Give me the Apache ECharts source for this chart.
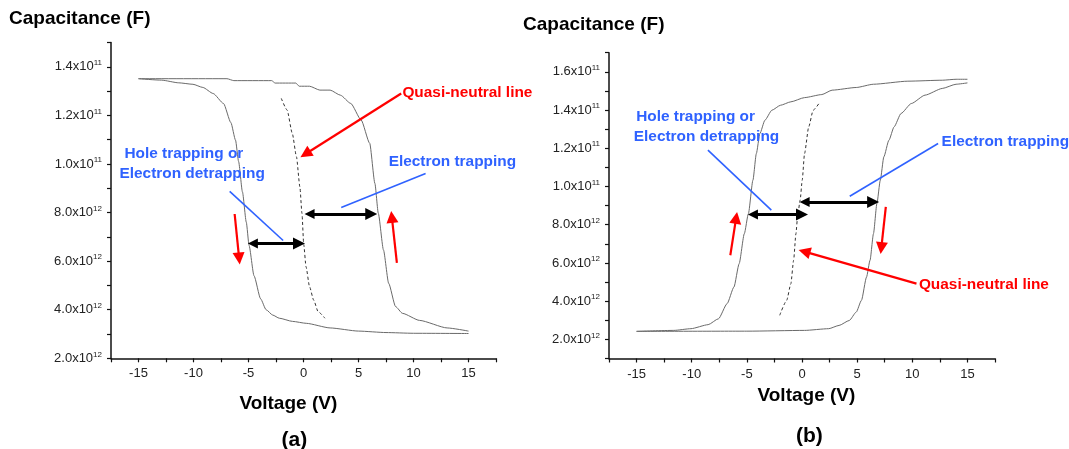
<!DOCTYPE html>
<html><head><meta charset="utf-8">
<script src="https://cdn.jsdelivr.net/npm/echarts@6/dist/echarts.min.js"></script>
<style>html,body{margin:0;padding:0;background:#fff}#c{width:1069px;height:449px}</style>
</head><body><div id="c"></div>
<script>
// ---------- data (Voltage V, Capacitance in tick units) ----------
const xTickValues = [-15, -10, -5, 0, 5, 10, 15];
const yTicksA = [[2,'2.0x10','12'],[4,'4.0x10','12'],[6,'6.0x10','12'],[8,'8.0x10','12'],[10,'1.0x10','11'],[12,'1.2x10','11'],[14,'1.4x10','11']];
const yTicksB = [[2,'2.0x10','12'],[4,'4.0x10','12'],[6,'6.0x10','12'],[8,'8.0x10','12'],[10,'1.0x10','11'],[12,'1.2x10','11'],[14,'1.4x10','11'],[16,'1.6x10','11']];

const aBranchLeft = [[-15,13.51],[-12.9,13.45],[-11.34,13.34],[-10.05,13.28],[-9.15,13.15],[-8.21,12.9],[-7.27,12.49],[-6.6,11.7],[-6.18,10.98],[-5.9,10.1],[-5.55,8.85],[-5.2,7.6],[-4.95,6.65],[-4.5,5.4],[-3.9,4.45],[-3.4,4.0],[-2.8,3.78],[-2.2,3.65],[-1.0,3.52],[0.25,3.44],[2.42,3.25],[5.0,3.12],[7.5,3.06],[10,3.03],[15,3.02]];
const aBranchRight = [[-15,13.51],[-6.96,13.51],[-6.33,13.43],[-2.89,13.43],[-2.58,13.33],[-0.7,13.33],[-0.39,13.2],[0.55,13.2],[1.49,13.04],[2.42,13.04],[3.36,12.83],[4.3,12.49],[5.24,11.81],[6.02,10.85],[6.49,9.2],[6.8,7.97],[7.27,6.46],[7.74,5.09],[8.37,4.13],[9.0,3.85],[10.55,3.56],[13.06,3.25],[15,3.12]];
const aNeutral = [[-2.02,12.7],[-1.49,12.22],[-1.02,11.26],[-0.64,10.3],[-0.33,9.06],[-0.14,7.97],[0.02,6.69],[0.23,5.77],[0.55,4.95],[0.92,4.4],[1.33,3.92],[1.95,3.65]];

const bBranchLeft = [[-15,2.42],[-11.63,2.47],[-10.07,2.56],[-8.51,2.77],[-7.57,3.08],[-6.79,3.87],[-6.17,4.74],[-5.7,5.96],[-5.23,7.53],[-4.86,8.58],[-4.45,10.33],[-4.14,11.72],[-3.82,12.77],[-3.36,13.47],[-2.73,13.99],[-1.95,14.25],[-1.01,14.43],[0.23,14.65],[1.8,14.81],[2.73,15.04],[4.92,15.18],[6.48,15.35],[9.6,15.51],[12.72,15.56],[13.97,15.61],[15,15.61]];
const bBranchRight = [[-15,2.42],[-5,2.43],[0.23,2.47],[2.42,2.56],[3.36,2.73],[4.29,2.99],[4.92,3.43],[5.39,4.04],[5.85,5.26],[6.17,6.14],[6.48,7.53],[6.79,9.1],[7.1,10.33],[7.42,11.55],[7.88,12.42],[8.35,13.12],[8.98,13.82],[9.91,14.34],[11.16,14.78],[12.72,15.13],[13.97,15.35],[15,15.42]];
const bNeutral = [[-2.02,3.26],[-1.39,4.04],[-1.01,4.91],[-0.76,6.14],[-0.55,7.53],[-0.39,8.49],[-0.17,9.28],[0.02,10.33],[0.23,11.72],[0.61,13.12],[1.01,13.99],[1.64,14.43]];

// annotations (data coordinates)
const aBlackArrows = [[[-4.6,6.73],[-0.41,6.73]],[[0.55,7.94],[6.16,7.94]]];
const aRedArrows = [[[8.88,12.9],[0.18,10.41]],[[-6.26,7.94],[-5.85,6.11]],[[8.49,5.93],[8.03,7.82]]];
const aBlueLines = [[[-6.71,8.87],[-1.85,6.85]],[[11.1,9.61],[3.43,8.21]]];
const aNotes = [[8.99,12.93,'Quasi-neutral line','red'],[-16.28,10.44,'Hole trapping or','blue'],[-16.73,9.58,'Electron detrapping','blue'],[7.74,10.09,'Electron trapping','blue']];

const bBlackArrows = [[[-4.45,8.53],[0.0,8.53]],[[0.24,9.19],[6.45,9.19]]];
const bRedArrows = [[[10.38,4.92],[0.22,6.59]],[[-6.5,6.4],[-5.97,8.36]],[[7.6,8.93],[7.19,6.78]]];
const bBlueLines = [[[-8.53,11.9],[-2.78,8.76]],[[12.34,12.25],[4.33,9.49]]];
const bNotes = [[-15.04,13.64,'Hole trapping or','blue'],[-15.25,12.6,'Electron detrapping','blue'],[12.66,12.34,'Electron trapping','blue'],[10.6,4.88,'Quasi-neutral line','red']];

// ---------- styling ----------
const FONT = '"Liberation Sans", Arial, Helvetica, sans-serif';
const COLORS = {red:'#ff0000', blue:'#2f62ff'};
const AXIS = '#111';

function mkX(gi){
  return {type:'value', gridIndex:gi, min:-17.5, max:17.5, interval:2.5,
    axisLine:{onZero:false, lineStyle:{color:AXIS, width:1.5}},
    axisTick:{length:4, lineStyle:{color:AXIS, width:1.2}},
    splitLine:{show:false},
    axisLabel:{margin:9, fontSize:13, color:'#222', fontFamily:FONT,
      formatter:v => xTickValues.indexOf(v) >= 0 ? String(v) : ''}};
}
function mkY(gi, mn, mx, ticks){
  const map = {}; ticks.forEach(t => map[t[0]] = t);
  return {type:'value', gridIndex:gi, min:mn, max:mx, interval:1,
    axisLine:{onZero:false, lineStyle:{color:AXIS, width:1.5}},
    axisTick:{length:4, lineStyle:{color:AXIS, width:1.2}},
    splitLine:{show:false},
    axisLabel:{margin:9, color:'#222', fontFamily:FONT,
      formatter:v => map[v] ? '{m|' + map[v][1] + '}{s|' + map[v][2] + '}' : '',
      rich:{m:{fontSize:13, color:'#222', fontFamily:FONT, lineHeight:16},
            s:{fontSize:8, color:'#222', fontFamily:FONT, lineHeight:9, verticalAlign:'top'}}}};
}
function curve(gi, data, dashed){
  return {type:'line', xAxisIndex:gi, yAxisIndex:gi, data:data, showSymbol:false, symbol:'none',
    smooth:0.2, smoothMonotone:'x', silent:true, clip:false,
    lineStyle:{color: dashed ? '#333' : '#6a6a6a', width:1, type: dashed ? [3,2.5] : 'solid'}, z:2};
}
function arrows(gi, list, color, width, sym, size){
  return {type:'lines', coordinateSystem:'cartesian2d', xAxisIndex:gi, yAxisIndex:gi, silent:true,
    symbol:sym, symbolSize:size,
    lineStyle:{color:color, width:width, opacity:1, curveness:0},
    itemStyle:{color:color},
    data:list.map(c => ({coords:c})), z:5};
}
function notes(gi, list){
  return {type:'scatter', xAxisIndex:gi, yAxisIndex:gi, symbolSize:0, silent:true, clip:false,
    itemStyle:{opacity:1},
    data:list.map(n => ({value:[n[0], n[1]], name:n[2], label:{color:COLORS[n[3]]}})),
    label:{show:true, position:'right', distance:0, formatter:'{b}', fontSize:15.4, fontWeight:'bold',
      fontFamily:FONT, opacity:1, textBorderWidth:0, textShadowBlur:0},
    z:6};
}
function txt(x, y, s, size, align){
  return {type:'text', style:{x:x, y:y, text:s, fill:'#000', font:'bold ' + size + 'px ' + FONT,
    align:align, verticalAlign:'middle', textAlign:align, textVerticalAlign:'middle'}};
}

const chart = echarts.init(document.getElementById('c'), null, {renderer:'canvas'});
chart.setOption({
  animation:false,
  backgroundColor:'#fff',
  grid:[{left:111, top:42.5, width:385, height:315.8}, {left:609, top:52.7, width:386, height:305.8}],
  xAxis:[mkX(0), mkX(1)],
  yAxis:[mkY(0, 2, 15, yTicksA), mkY(1, 1, 17, yTicksB)],
  series:[
    curve(0, aBranchLeft, false), curve(0, aBranchRight, false), curve(0, aNeutral, true),
    curve(1, bBranchLeft, false), curve(1, bBranchRight, false), curve(1, bNeutral, true),
    arrows(0, aBlueLines, COLORS.blue, 1.6, ['none','none'], 1),
    arrows(1, bBlueLines, COLORS.blue, 1.6, ['none','none'], 1),
    arrows(0, aRedArrows, COLORS.red, 2.2, ['none','triangle'], [9, 12]),
    arrows(1, bRedArrows, COLORS.red, 2.2, ['none','triangle'], [9, 12]),
    arrows(0, aBlackArrows, '#000', 2.8, ['triangle','triangle'], [10, 12]),
    arrows(1, bBlackArrows, '#000', 2.8, ['triangle','triangle'], [10, 12]),
    notes(0, aNotes), notes(1, bNotes)
  ],
  graphic:[
    txt(9, 18.5, 'Capacitance (F)', 19, 'left'),
    txt(523, 25, 'Capacitance (F)', 19, 'left'),
    txt(288.3, 404, 'Voltage (V)', 19, 'center'),
    txt(806.4, 396, 'Voltage (V)', 19, 'center'),
    txt(294.3, 440, '(a)', 21, 'center'),
    txt(809.3, 436, '(b)', 21, 'center')
  ]
});
</script></body></html>
